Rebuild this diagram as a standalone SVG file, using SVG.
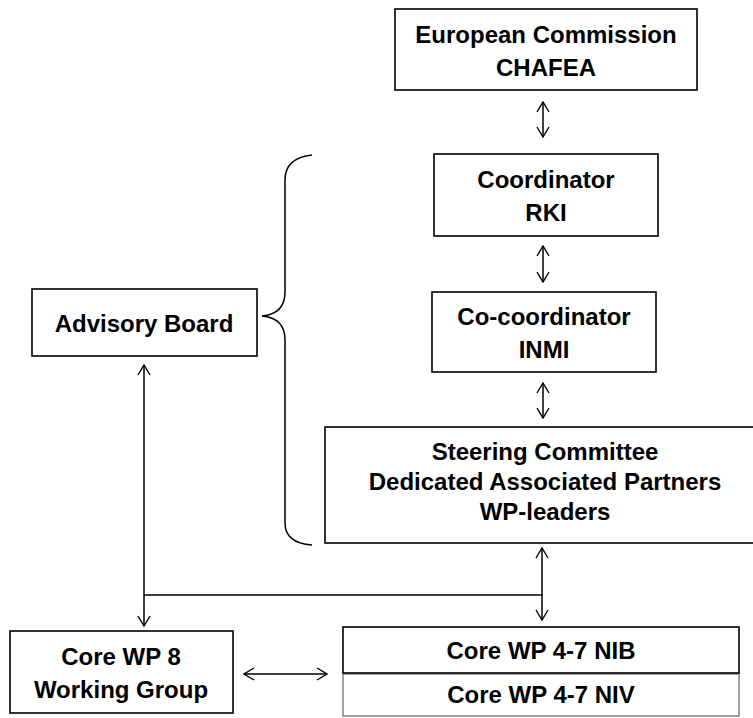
<svg xmlns="http://www.w3.org/2000/svg" width="753" height="718" viewBox="0 0 753 718">
<style>
.box{fill:#fff;stroke:#000;stroke-width:1.6}
.gbox{fill:#fff;stroke:#8a8a8a;stroke-width:1.6}
.t{font-family:"Liberation Sans",Arial,sans-serif;font-weight:bold;font-size:24px;fill:#000;text-anchor:middle}
.c{fill:none;stroke:#000;stroke-width:1.5}
</style>
<defs>
<marker id="arr" viewBox="0 0 12 14" refX="11" refY="7" markerWidth="12" markerHeight="14" markerUnits="userSpaceOnUse" orient="auto-start-reverse">
<path d="M1,1 L11,7 L1,13" fill="none" stroke="#000" stroke-width="1.4"/>
</marker>
</defs>
<rect width="753" height="718" fill="#fff"/>
<g id="connectors">
<path class="c" d="M543,102 V137" marker-start="url(#arr)" marker-end="url(#arr)"/>
<path class="c" d="M543,246 V282" marker-start="url(#arr)" marker-end="url(#arr)"/>
<path class="c" d="M543,383 V418" marker-start="url(#arr)" marker-end="url(#arr)"/>
<path class="c" d="M144,365 V626" marker-start="url(#arr)" marker-end="url(#arr)"/>
<path class="c" d="M144,595 H543"/>
<path class="c" d="M542,548 V620" marker-start="url(#arr)" marker-end="url(#arr)"/>
<path class="c" d="M244,674 H327" marker-start="url(#arr)" marker-end="url(#arr)"/>
<path id="brace" class="c" d="M312,155 Q285,158 285,180 V292 Q285,314 262,316 Q285,318 285,340 V523 Q285,543 312,545"/>
</g>
<g id="european-commission">
<rect class="box" x="395" y="9" width="302" height="81"/>
<text class="t" x="546" y="43">European Commission</text>
<text class="t" x="546" y="76">CHAFEA</text>
</g>
<g id="coordinator">
<rect class="box" x="434" y="154" width="224" height="82"/>
<text class="t" x="546" y="188">Coordinator</text>
<text class="t" x="546" y="221">RKI</text>
</g>
<g id="co-coordinator">
<rect class="box" x="432" y="292" width="224" height="80"/>
<text class="t" x="544" y="325">Co-coordinator</text>
<text class="t" x="544" y="358">INMI</text>
</g>
<g id="steering-committee">
<rect class="box" x="325" y="427" width="445" height="116"/>
<text class="t" x="545" y="460">Steering Committee</text>
<text class="t" x="545" y="490">Dedicated Associated Partners</text>
<text class="t" x="545" y="520">WP-leaders</text>
</g>
<g id="advisory-board">
<rect class="box" x="32" y="289" width="225" height="67"/>
<text class="t" x="144" y="332">Advisory Board</text>
</g>
<g id="core-wp8">
<rect class="box" x="10" y="631" width="223" height="82"/>
<text class="t" x="121" y="665">Core WP 8</text>
<text class="t" x="121" y="698">Working Group</text>
</g>
<g id="core-wp47">
<rect class="gbox" x="343" y="674" width="396" height="42"/>
<rect class="box" x="343" y="627" width="396" height="46"/>
<text class="t" x="541" y="659">Core WP 4-7 NIB</text>
<text class="t" x="541" y="703">Core WP 4-7 NIV</text>
</g>
</svg>
